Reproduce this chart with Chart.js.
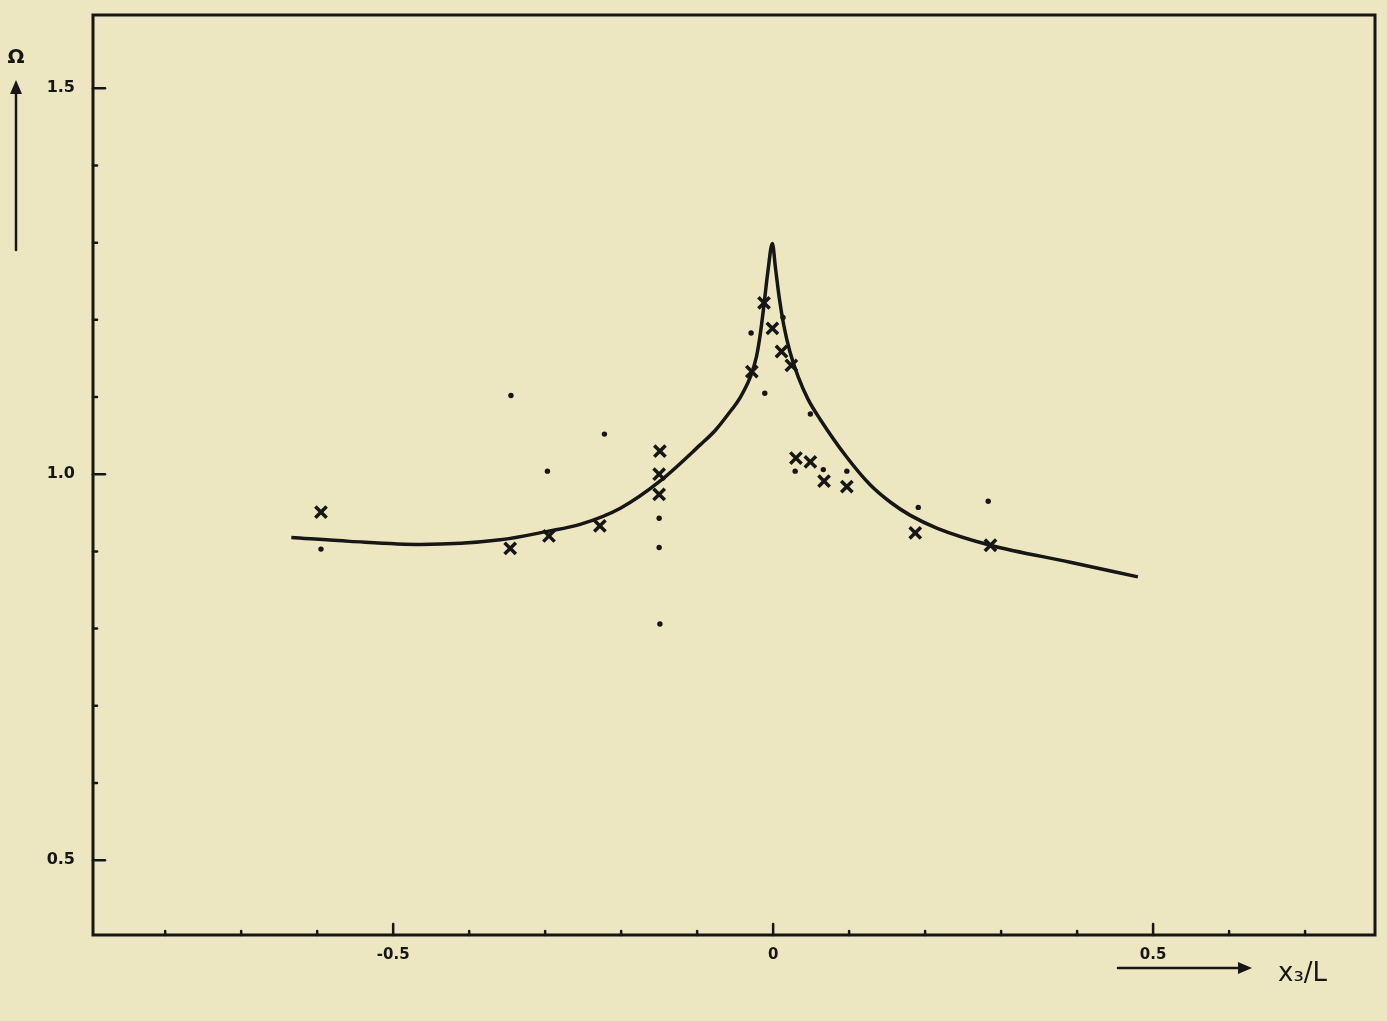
<!DOCTYPE html>
<html>
<head>
<meta charset="utf-8">
<script src="https://cdn.jsdelivr.net/npm/chart.js@4.4.1/dist/chart.umd.min.js"></script>
<style>
  html, body { margin: 0; padding: 0; background: #ece7c1; }
  #wrap { width: 1387px; height: 1021px; position: relative; }
</style>
</head>
<body>
<div id="wrap"><canvas id="c" width="1387" height="1021"></canvas></div>
<script>
// fitted curve
var curveX = [-0.634, -0.557, -0.464, -0.359, -0.297, -0.254, -0.201, -0.149, -0.096, -0.076, -0.059, -0.043, -0.030, -0.022, -0.017, -0.012, -0.007, -0.001,
              0.003, 0.008, 0.014, 0.022, 0.033, 0.046, 0.062, 0.097, 0.128, 0.154, 0.180, 0.216, 0.286, 0.391, 0.480];
var curveY = [0.918, 0.913, 0.909, 0.915, 0.926, 0.935, 0.956, 0.991, 1.038, 1.057, 1.078, 1.100, 1.126, 1.152, 1.181, 1.220, 1.262, 1.299,
              1.268, 1.229, 1.193, 1.159, 1.126, 1.097, 1.071, 1.022, 0.986, 0.964, 0.947, 0.930, 0.908, 0.886, 0.867];

// measured points drawn as crosses
var crossX = [-0.595, -0.346, -0.295, -0.228, -0.149, -0.150, -0.150, -0.028, -0.012, -0.001, 0.011, 0.024, 0.030, 0.049, 0.067, 0.097, 0.187, 0.286];
var crossY = [0.951, 0.904, 0.920, 0.933, 1.030, 1.000, 0.974, 1.133, 1.222, 1.189, 1.159, 1.141, 1.021, 1.016, 0.991, 0.984, 0.924, 0.908];

// measured points drawn as dots
var dotX = [-0.595, -0.345, -0.297, -0.222, -0.150, -0.150, -0.149, -0.029, -0.011, 0.013, 0.049, 0.029, 0.066, 0.097, 0.191, 0.283];
var dotY = [0.903, 1.102, 1.004, 1.052, 0.943, 0.905, 0.806, 1.183, 1.105, 1.203, 1.078, 1.004, 1.006, 1.004, 0.957, 0.965];

var xTicks = [-0.5, 0, 0.5];
var xTickLabels = ['-0.5', '0', '0.5'];
var yTicks = [0.5, 1.0, 1.5];
var yTickLabels = ['0.5', '1.0', '1.5'];

var ink = '#161616';

function pts(xs, ys) {
    var out = [];
    for (var i = 0; i < xs.length; i++) out.push({ x: xs[i], y: ys[i] });
    return out;
}

var paper = {
    id: 'paper',
    beforeDraw: function (chart) {
        var ctx = chart.ctx;
        ctx.save();
        ctx.fillStyle = '#ece7c1';
        ctx.fillRect(0, 0, chart.width, chart.height);
        ctx.restore();
    },
    afterDatasetsDraw: function (chart) {
        var ctx = chart.ctx;
        var a = chart.chartArea;
        var sx = chart.scales.x, sy = chart.scales.y;
        ctx.save();
        ctx.strokeStyle = ink;
        ctx.fillStyle = ink;
        ctx.lineCap = 'round';

        // frame
        ctx.lineWidth = 3;
        ctx.strokeRect(a.left, a.top, a.right - a.left, a.bottom - a.top);

        // inward ticks, minor every 0.1
        ctx.lineWidth = 2.5;
        for (var i = -8; i <= 7; i++) {
            var px = sx.getPixelForValue(i / 10);
            var len = (i % 5 === 0) ? 11 : 4;
            ctx.beginPath();
            ctx.moveTo(px, a.bottom);
            ctx.lineTo(px, a.bottom - len);
            ctx.stroke();
        }
        for (var j = 5; j <= 15; j++) {
            var py = sy.getPixelForValue(j / 10);
            var l2 = (j % 5 === 0) ? 12 : 4;
            ctx.beginPath();
            ctx.moveTo(a.left, py);
            ctx.lineTo(a.left + l2, py);
            ctx.stroke();
        }

        // y axis arrow + symbol
        ctx.lineWidth = 2.5;
        ctx.beginPath();
        ctx.moveTo(16, 250);
        ctx.lineTo(16, 92);
        ctx.stroke();
        ctx.beginPath();
        ctx.moveTo(16, 80);
        ctx.lineTo(10, 94);
        ctx.lineTo(22, 94);
        ctx.closePath();
        ctx.fill();
        ctx.font = 'bold 20px "DejaVu Sans"';
        ctx.textAlign = 'center';
        ctx.textBaseline = 'middle';
        ctx.fillText('Ω', 16, 58);

        // x axis arrow + symbol
        ctx.beginPath();
        ctx.moveTo(1118, 968);
        ctx.lineTo(1240, 968);
        ctx.stroke();
        ctx.beginPath();
        ctx.moveTo(1252, 968);
        ctx.lineTo(1238, 962);
        ctx.lineTo(1238, 974);
        ctx.closePath();
        ctx.fill();
        ctx.font = '26px "DejaVu Sans"';
        ctx.textAlign = 'left';
        ctx.fillText('x₃/L', 1278, 974);
        ctx.restore();
    }
};

new Chart(document.getElementById('c'), {
    type: 'scatter',
    data: {
        datasets: [{
            label: 'curve',
            data: pts(curveX, curveY),
            showLine: true,
            borderColor: ink,
            borderWidth: 3.5,
            pointRadius: 0,
            cubicInterpolationMode: 'monotone',
            order: 3
        }, {
            label: 'crosses',
            data: pts(crossX, crossY),
            pointStyle: 'crossRot',
            pointRadius: 8,
            borderColor: ink,
            borderWidth: 3.5,
            order: 1
        }, {
            label: 'dots',
            data: pts(dotX, dotY),
            pointStyle: 'circle',
            pointRadius: 2.7,
            backgroundColor: ink,
            borderColor: ink,
            borderWidth: 0,
            order: 2
        }]
    },
    options: {
        responsive: false,
        animation: false,
        layout: { padding: { left: 0, right: 12, top: 15, bottom: 0 } },
        plugins: { legend: { display: false }, tooltip: { enabled: false } },
        scales: {
            x: {
                type: 'linear',
                min: -0.895,
                max: 0.792,
                border: { display: false },
                grid: { display: false },
                afterBuildTicks: function (s) { s.ticks = xTicks.map(function (v) { return { value: v }; }); },
                afterFit: function (s) { s.height = 86; s.paddingLeft = 0; s.paddingRight = 0; },
                ticks: {
                    padding: 3,
                    color: ink,
                    font: { family: 'DejaVu Sans', size: 15, weight: 'bold' },
                    callback: function (v) { return xTickLabels[xTicks.indexOf(v)]; }
                }
            },
            y: {
                type: 'linear',
                min: 0.403,
                max: 1.595,
                border: { display: false },
                grid: { display: false },
                afterBuildTicks: function (s) { s.ticks = yTicks.map(function (v) { return { value: v }; }); },
                afterFit: function (s) { s.width = 93; s.paddingTop = 0; s.paddingBottom = 0; },
                ticks: {
                    padding: 10,
                    color: ink,
                    font: { family: 'DejaVu Sans', size: 16, weight: 'bold' },
                    callback: function (v) { return yTickLabels[yTicks.indexOf(v)]; }
                }
            }
        }
    },
    plugins: [paper]
});
</script>
</body>
</html>
